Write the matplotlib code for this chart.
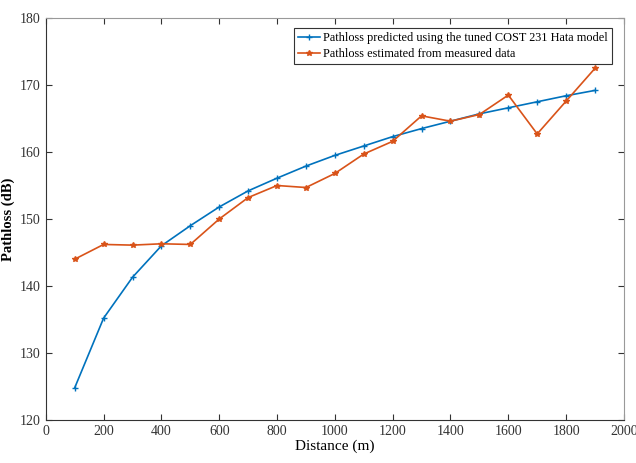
import matplotlib.pyplot as plt

plt.rcParams['font.family'] = ['Liberation Serif', 'DejaVu Serif']

# distance (m)
distance = [100, 200, 300, 400, 500, 600, 700, 800, 900, 1000,
            1100, 1200, 1300, 1400, 1500, 1600, 1700, 1800, 1900]

# pathloss from tuned COST 231 Hata model (dB)
predicted = [124.8, 135.2, 141.3, 146.0, 149.0, 151.8, 154.2, 156.1, 157.9, 159.5,
             160.9, 162.3, 163.5, 164.6, 165.7, 166.6, 167.5, 168.4, 169.2]

# pathloss estimated from measurements (dB)
measured = [144.0, 146.2, 146.1, 146.3, 146.2, 150.0, 153.2, 155.0, 154.7, 156.8,
            159.7, 161.6, 165.4, 164.6, 165.6, 168.5, 162.7, 167.6, 172.5]

fig = plt.figure(figsize=(6.36, 4.63), dpi=100)
ax = fig.add_axes([0.072, 0.093, 0.909, 0.868])

ax.plot(distance, predicted, color='#0072BD', marker='+', markersize=4,
        linewidth=1.2, label='Pathloss predicted using the tuned COST 231 Hata model')
ax.plot(distance, measured, color='#D95319', marker='*', markersize=4,
        linewidth=1.2, label='Pathloss estimated from measured data')

ax.set_xlim(0, 2000)
ax.set_ylim(120, 180)
ax.set_xticks(range(0, 2001, 200))
ax.set_yticks(range(120, 181, 10))
ax.tick_params(direction='in', top=True, right=True, labelsize=10,
               colors='#333333', length=4, pad=4)
for s in ax.spines.values():
    s.set_color('#333333')
    s.set_linewidth(0.8)
ax.spines['right'].set_color('#999999')
ax.spines['top'].set_color('#999999')

ax.set_xlabel('Distance (m)', fontsize=11, labelpad=1)
ax.set_ylabel('Pathloss (dB)', fontsize=10.5, fontweight='bold')
ax.yaxis.set_label_coords(-0.054, 0.5)

leg = ax.legend(loc='upper right', bbox_to_anchor=(0.979, 0.975), fontsize=8.8,
                fancybox=False, edgecolor='#333333', framealpha=1,
                handlelength=1.8, handletextpad=0.2, borderpad=0.35,
                labelspacing=0.3, borderaxespad=0)
leg.get_frame().set_linewidth(0.8)

fig.savefig('out.png', dpi=100)
